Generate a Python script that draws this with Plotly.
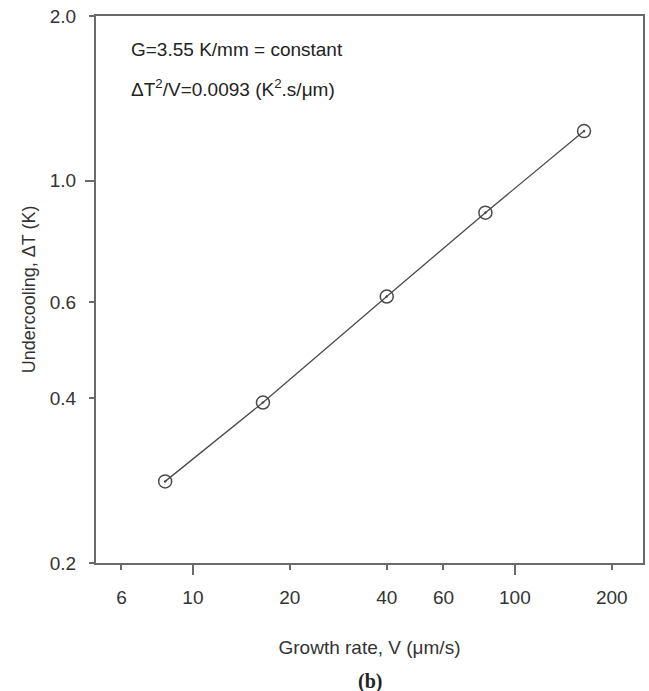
import plotly.graph_objects as go

# Data
growth_rate = [8.2, 16.5, 40.0, 81.0, 164.0]        # V (um/s)
undercooling = [0.282, 0.393, 0.614, 0.874, 1.232]  # dT (K)

x_tick_vals = [6, 10, 20, 40, 60, 100, 200]
x_tick_text = ["6", "10", "20", "40", "60", "100", "200"]
x_major_vals = [10, 100]
y_tick_vals = [0.2, 0.4, 0.6, 1.0, 2.0]
y_tick_text = ["0.2", "0.4", "0.6", "1.0", "2.0"]
y_major_vals = [1.0]

axis_col = "#6a6a6a"
line_col = "#4a4a4a"
font_fam = "Liberation Sans, Arial, sans-serif"

fig = go.Figure()
fig.add_trace(go.Scatter(
    x=growth_rate, y=undercooling, mode="lines+markers",
    line=dict(color=line_col, width=1.3),
    marker=dict(symbol="circle-open-dot", size=13, color=line_col,
                line=dict(color=line_col, width=1.5)),
    showlegend=False,
))
# invisible trace on overlay axes so they render
fig.add_trace(go.Scatter(x=[growth_rate[0]], y=[undercooling[0]], xaxis="x2", yaxis="y2",
                         mode="markers", marker=dict(opacity=0), showlegend=False, hoverinfo="skip"))

xr = [0.699, 2.398]
yr = [-0.69897, 0.30103]

fig.update_layout(
    width=649, height=691,
    margin=dict(l=96, r=6, t=16, b=128),
    paper_bgcolor="white", plot_bgcolor="white",
    font=dict(family=font_fam, color="#333333"),
    xaxis=dict(type="log", range=xr, tickmode="array", tickvals=x_tick_vals, ticktext=x_tick_text,
               ticks="outside", ticklen=5, tickwidth=1.5, tickcolor=axis_col, automargin=False,
               showline=True, linecolor=axis_col, linewidth=2, mirror=True, showgrid=False,
               zeroline=False, tickfont=dict(size=19, color="#333333"), ticklabelstandoff=11,
               title=dict(text="Growth rate, V (μm/s)", font=dict(size=19, color="#333333"), standoff=34)),
    yaxis=dict(type="log", range=yr, tickmode="array", tickvals=y_tick_vals, ticktext=y_tick_text,
               ticks="outside", ticklen=5, tickwidth=1.5, tickcolor=axis_col, automargin=False,
               showline=True, linecolor=axis_col, linewidth=2, mirror=True, showgrid=False,
               zeroline=False, tickfont=dict(size=19, color="#333333"), ticklabelstandoff=9,
               title=dict(text="Undercooling, ΔT (K)", font=dict(size=18, color="#333333"), standoff=9)),
    xaxis2=dict(type="log", range=xr, overlaying="x", anchor="y", side="bottom", automargin=False,
                tickmode="array", tickvals=x_major_vals,
                ticks="outside", ticklen=11, tickwidth=1.5, tickcolor=axis_col,
                showline=False, showgrid=False, zeroline=False, showticklabels=False),
    yaxis2=dict(type="log", range=yr, overlaying="y", anchor="x", side="left", automargin=False,
                tickmode="array", tickvals=y_major_vals,
                ticks="outside", ticklen=10, tickwidth=1.5, tickcolor=axis_col,
                showline=False, showgrid=False, zeroline=False, showticklabels=False),
    annotations=[
        dict(text="G=3.55 K/mm = constant", xref="paper", yref="paper", x=0.060, y=0.938,
             xanchor="left", yanchor="middle", showarrow=False,
             font=dict(size=19, color="#222222", family=font_fam)),
        dict(text="ΔT<sup>2</sup>/V=0.0093 (K<sup>2</sup>.s/μm)", xref="paper", yref="paper",
             x=0.060, y=0.868, xanchor="left", yanchor="middle", showarrow=False,
             font=dict(size=19, color="#222222", family=font_fam)),
        dict(text="<b>(b)</b>", xref="paper", yref="paper", x=0.5, y=-0.216,
             xanchor="center", yanchor="middle", showarrow=False,
             font=dict(size=20, color="#222222", family="Liberation Serif, Times New Roman, serif")),
    ],
)

fig.write_html("out.html", config={"displayModeBar": False},
               post_script="document.body.style.margin='0';document.body.style.overflow='hidden';")
